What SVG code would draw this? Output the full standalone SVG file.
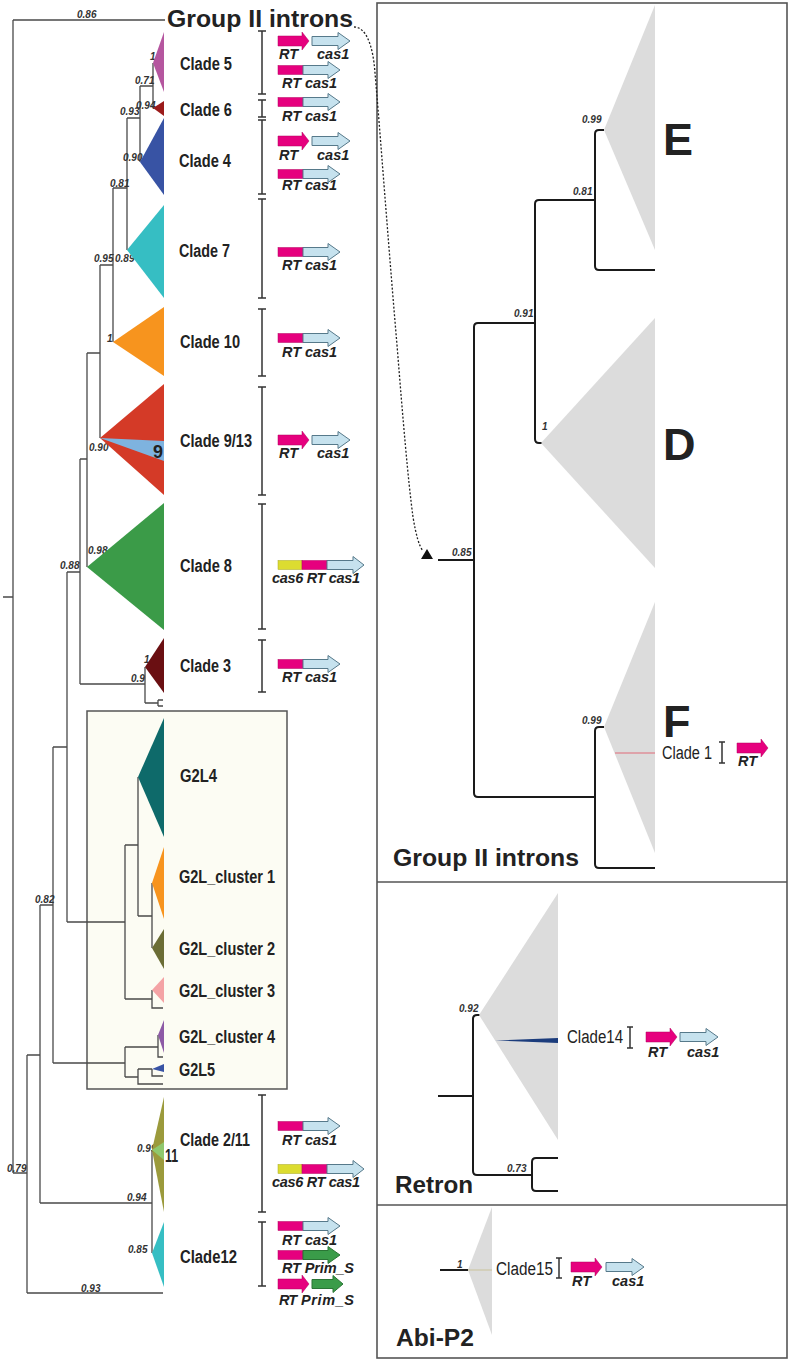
<svg xmlns="http://www.w3.org/2000/svg" xmlns:xlink="http://www.w3.org/1999/xlink" width="800" height="1361" viewBox="0 0 800 1361">
<style>
.tl{fill:none;stroke:#4a4a4a;stroke-width:1.3}
.rt{fill:none;stroke:#1a1a1a;stroke-width:2}
.br{fill:none;stroke:#333;stroke-width:1.5}
.pn{fill:none;stroke:#555;stroke-width:1.6}
.lb{font-family:"Liberation Sans",Arial,sans-serif;font-weight:bold;font-size:18px;fill:#222}
.ln{font-family:"Liberation Sans",Arial,sans-serif;font-size:18px;fill:#222}
.sp{font-family:"Liberation Sans",Arial,sans-serif;font-style:italic;font-weight:bold;font-size:10px;fill:#333}
.gn{font-family:"Liberation Sans",Arial,sans-serif;font-style:italic;font-weight:bold;font-size:14.5px;fill:#222}
.tt{font-family:"Liberation Sans",Arial,sans-serif;font-weight:bold;font-size:24px;fill:#222}
.big{font-family:"Liberation Sans",Arial,sans-serif;font-weight:bold;font-size:45px;fill:#222}
.gray{fill:#dcdcdc}
.mag{fill:#e6007e;stroke:#b3005f;stroke-width:0.5}
.cas{fill:#c6e2ee;stroke:#56798a;stroke-width:1}
.prim{fill:#3a9c49;stroke:#2a7535;stroke-width:1}
.yel{fill:#dcdc30;stroke:#a8a820;stroke-width:0.5}
</style>
<defs>
<g id="aRT"><path class="mag" d="M0,-5 H24 V-9 L31,0 L24,9 V5 H0 Z"/></g>
<g id="aCas"><path class="cas" d="M0,-4.5 H26 V-8.5 L38,0 L26,8.5 V4.5 H0 Z"/></g>
<g id="aPrim"><path class="prim" d="M0,-4.5 H21 V-8.5 L31,0 L21,8.5 V4.5 H0 Z"/></g>
<g id="fRTcas"><rect class="mag" x="0" y="-4.5" width="25" height="9"/><path class="cas" d="M25,-4.5 H50 V-8.5 L62,0 L50,8.5 V4.5 H25 Z"/></g>
<g id="fRTprim"><rect class="mag" x="0" y="-4.5" width="25" height="9"/><path class="prim" d="M25,-4.5 H50 V-8.5 L62,0 L50,8.5 V4.5 H25 Z"/></g>
<g id="tri"><rect class="yel" x="0" y="-4.5" width="24" height="9"/><rect class="mag" x="24" y="-4.5" width="25" height="9"/><path class="cas" d="M49,-4.5 H75 V-8.5 L86,0 L75,8.5 V4.5 H49 Z"/></g>
</defs>
<rect x="0" y="0" width="800" height="1361" fill="#fff"/>

<!-- G2L box -->
<rect id="g2l-box" x="87" y="711" width="200" height="378" fill="#fcfcf3" stroke="#555" stroke-width="1.5"/>

<!-- panels -->
<g id="panels">
<rect class="pn" x="377" y="3" width="410" height="1355"/>
<path class="pn" d="M377,882 H787 M377,1205 H787"/>
</g>

<!-- connectors: left tree -->
<g id="connectors">
<path class="tl" d="M3,597 H13 M13,20 V1173 M13,20 H165 M13,1173 H27 M27,1055 V1293 M27,1293 H163 M27,1055 H40 M40,905 V1203 M40,1203 H152 M152,1150 V1253 M40,905 H53 M53,747 V1063 M53,1063 H125 M125,1047 V1077 M125,1047 H158 M158,1035 V1057 H163 M125,1077 H138 M138,1069 V1084 H163 M138,1069 H152 M152,1069 V1076 H163 M53,747 H67 M67,572 V922 M67,922 H125 M125,845 V999 M125,845 H138 M138,777 V916 M138,916 H152 M152,883 V948 M125,999 H152 M152,990 V1008 H163 M67,572 H80 M80,459 V684 M80,684 H145 M145,667 V703 M145,703 H158 M158,700 V706 M158,700 H163 M158,706 H163 M80,459 H87 M87,353 V567 M87,353 H100 M100,265 V438 M100,265 H113 M113,188 V342 M113,188 H127 M127,118 V250 M127,118 H140 M140,86 V162 M140,86 H153 M153,63 V108"/>
<!-- right panel trees -->
<path class="rt" d="M438,560 H474 M535,323 H478 Q474,323 474,327 V793 Q474,797 478,797 H595 M595,200 H539 Q535,200 535,204 V439 Q535,443 539,443 H542 M604,130 H599 Q595,130 595,134 V266 Q595,270 599,270 H655 M604,727 H599 Q595,727 595,731 V864 Q595,868 599,868 H655"/>
<path class="rt" d="M438,1096 H473 M480,1015 H477 Q473,1015 473,1019 V1171 Q473,1175 477,1175 H532 M558,1158 H536 Q532,1158 532,1162 V1187 Q532,1191 536,1191 H558"/>
<path class="rt" d="M440,1270 H468"/>
<!-- dotted link -->
<path d="M354,27 C366,27 373,45 375,73 C380,130 388,240 397,345 C403,420 408,480 413,517 C416,535 419,546 423,551" fill="none" stroke="#222" stroke-width="1.3" stroke-dasharray="2,1.8"/>
<polygon points="421,559 433,559 427,549" fill="#111"/>
</g>

<!-- support values -->
<g id="support">
<text class="sp" x="77" y="18">0.86</text>
<text class="sp" x="150" y="60">1</text>
<text class="sp" x="135" y="84">0.71</text>
<text class="sp" x="136" y="109">0.94</text>
<text class="sp" x="120" y="115">0.93</text>
<text class="sp" x="123" y="161">0.90</text>
<text class="sp" x="110" y="187">0.81</text>
<text class="sp" x="94" y="262">0.95</text>
<text class="sp" x="115" y="262">0.89</text>
<text class="sp" x="107" y="342">1</text>
<text class="sp" x="89" y="451">0.90</text>
<text class="sp" x="88" y="554">0.98</text>
<text class="sp" x="60" y="569">0.88</text>
<text class="sp" x="144" y="663">1</text>
<text class="sp" x="131" y="682">0.9</text>
<text class="sp" x="35" y="903">0.82</text>
<text class="sp" x="137" y="1152">0.99</text>
<text class="sp" x="7" y="1172">0.79</text>
<text class="sp" x="127" y="1201">0.94</text>
<text class="sp" x="128" y="1253">0.85</text>
<text class="sp" x="81" y="1292">0.93</text>
<text class="sp" x="452" y="556">0.85</text>
<text class="sp" x="514" y="317">0.91</text>
<text class="sp" x="573" y="195">0.81</text>
<text class="sp" x="582" y="123">0.99</text>
<text class="sp" x="542" y="430">1</text>
<text class="sp" x="582" y="724">0.99</text>
<text class="sp" x="459" y="1012">0.92</text>
<text class="sp" x="507" y="1172">0.73</text>
<text class="sp" x="457" y="1268">1</text>
</g>

<text id="title-top" class="tt" x="167" y="27" textLength="186" lengthAdjust="spacingAndGlyphs">Group II introns</text>

<g id="clade5">
<polygon points="153,63 164,32 164,92" fill="#b5569f"/>
<text class="lb" x="180" y="70" textLength="52" lengthAdjust="spacingAndGlyphs">Clade 5</text>
<path class="br" d="M258,31 H266 M262,31 V94 M258,94 H266"/>
<use xlink:href="#aRT" x="278" y="41"/><use xlink:href="#aCas" x="312" y="41"/>
<text class="gn" x="279" y="59">RT</text><text class="gn" x="317" y="59">cas1</text>
<use xlink:href="#fRTcas" x="278" y="70"/>
<text class="gn" x="282" y="88" textLength="55">RT cas1</text>
</g>
<g id="clade6">
<polygon points="153,108 164,101 164,116" fill="#9b1b1b"/>
<text class="lb" x="180" y="116" textLength="52" lengthAdjust="spacingAndGlyphs">Clade 6</text>
<path class="br" d="M258,100 H266 M262,100 V117 M258,117 H266"/>
<use xlink:href="#fRTcas" x="278" y="102"/>
<text class="gn" x="282" y="121" textLength="55">RT cas1</text>
</g>
<g id="clade4">
<polygon points="140,162 164,118 164,195" fill="#3853a4"/>
<text class="lb" x="179" y="167" textLength="52" lengthAdjust="spacingAndGlyphs">Clade 4</text>
<path class="br" d="M258,120 H266 M262,120 V194 M258,194 H266"/>
<use xlink:href="#aRT" x="278" y="141"/><use xlink:href="#aCas" x="312" y="141"/>
<text class="gn" x="279" y="160">RT</text><text class="gn" x="317" y="160">cas1</text>
<use xlink:href="#fRTcas" x="278" y="174"/>
<text class="gn" x="282" y="190" textLength="55">RT cas1</text>
</g>
<g id="clade7">
<polygon points="127,250 164,205 164,298" fill="#36bec3"/>
<text class="lb" x="179" y="257" textLength="51" lengthAdjust="spacingAndGlyphs">Clade 7</text>
<path class="br" d="M258,199 H266 M262,199 V298 M258,298 H266"/>
<use xlink:href="#fRTcas" x="278" y="252"/>
<text class="gn" x="282" y="270" textLength="55">RT cas1</text>
</g>
<g id="clade10">
<polygon points="113,342 164,307 164,376" fill="#f7941e"/>
<text class="lb" x="180" y="348" textLength="60" lengthAdjust="spacingAndGlyphs">Clade 10</text>
<path class="br" d="M258,309 H266 M262,309 V376 M258,376 H266"/>
<use xlink:href="#fRTcas" x="278" y="338"/>
<text class="gn" x="282" y="357" textLength="55">RT cas1</text>
</g>
<g id="clade9-13">
<polygon points="100,438 164,384 164,495" fill="#d43a27"/>
<polygon points="100,438 164,441 164,461" fill="#7eb3df"/>
<text class="lb" x="153" y="458" font-size="17">9</text>
<text class="lb" x="180" y="447" textLength="72" lengthAdjust="spacingAndGlyphs">Clade 9/13</text>
<path class="br" d="M258,387 H266 M262,387 V495 M258,495 H266"/>
<use xlink:href="#aRT" x="278" y="440"/><use xlink:href="#aCas" x="312" y="440"/>
<text class="gn" x="279" y="458">RT</text><text class="gn" x="317" y="458">cas1</text>
</g>
<g id="clade8">
<polygon points="87,567 164,503 164,630" fill="#3b9b48"/>
<text class="lb" x="180" y="572" textLength="52" lengthAdjust="spacingAndGlyphs">Clade 8</text>
<path class="br" d="M258,504 H266 M262,504 V629 M258,629 H266"/>
<use xlink:href="#tri" x="278" y="565"/>
<text class="gn" x="272" y="583" textLength="88">cas6 RT cas1</text>
</g>
<g id="clade3">
<polygon points="145,667 164,638 164,693" fill="#6a0f12"/>
<text class="lb" x="180" y="672" textLength="51" lengthAdjust="spacingAndGlyphs">Clade 3</text>
<path class="br" d="M258,640 H266 M262,640 V692 M258,692 H266"/>
<use xlink:href="#fRTcas" x="278" y="664"/>
<text class="gn" x="282" y="682" textLength="55">RT cas1</text>
</g>
<g id="g2l4">
<polygon points="138,777 164,718 164,837" fill="#0e6a6a"/>
<text class="lb" x="180" y="782" textLength="37" lengthAdjust="spacingAndGlyphs">G2L4</text>
</g>
<g id="g2l-cluster1">
<polygon points="152,883 164,847 164,919" fill="#f7941e"/>
<text class="lb" x="179" y="883" textLength="96" lengthAdjust="spacingAndGlyphs">G2L_cluster 1</text>
</g>
<g id="g2l-cluster2">
<polygon points="152,948 164,929 164,969" fill="#6b6d35"/>
<text class="lb" x="179" y="955" textLength="96" lengthAdjust="spacingAndGlyphs">G2L_cluster 2</text>
</g>
<g id="g2l-cluster3">
<polygon points="152,990 164,977 164,1003" fill="#f4a3a5"/>
<text class="lb" x="179" y="997" textLength="96" lengthAdjust="spacingAndGlyphs">G2L_cluster 3</text>
</g>
<g id="g2l-cluster4">
<polygon points="158,1035 164,1020 164,1053" fill="#8d5aa6"/>
<text class="lb" x="179" y="1043" textLength="96" lengthAdjust="spacingAndGlyphs">G2L_cluster 4</text>
</g>
<g id="g2l5">
<polygon points="152,1069 164,1064 164,1072" fill="#3853a4"/>
<text class="lb" x="179" y="1076" textLength="36" lengthAdjust="spacingAndGlyphs">G2L5</text>
</g>
<g id="clade2-11">
<polygon points="152,1150 164,1097 164,1212" fill="#9b9a3c"/>
<polygon points="152,1150 164,1142 164,1160" fill="#8fc86e"/>
<text class="lb" x="165" y="1162" textLength="13" lengthAdjust="spacingAndGlyphs">11</text>
<text class="lb" x="180" y="1146" textLength="70" lengthAdjust="spacingAndGlyphs">Clade 2/11</text>
<path class="br" d="M258,1095 H266 M262,1095 V1212 M258,1212 H266"/>
<use xlink:href="#fRTcas" x="278" y="1126"/>
<text class="gn" x="282" y="1145" textLength="55">RT cas1</text>
<use xlink:href="#tri" x="278" y="1169"/>
<text class="gn" x="272" y="1187" textLength="88">cas6 RT cas1</text>
</g>
<g id="clade12">
<polygon points="152,1253 164,1222 164,1287" fill="#36bec3"/>
<text class="lb" x="180" y="1263" textLength="57" lengthAdjust="spacingAndGlyphs">Clade12</text>
<path class="br" d="M258,1222 H266 M262,1222 V1286 M258,1286 H266"/>
<use xlink:href="#fRTcas" x="278" y="1226"/>
<text class="gn" x="282" y="1245" textLength="55">RT cas1</text>
<use xlink:href="#fRTprim" x="278" y="1255"/>
<text class="gn" x="282" y="1273" textLength="72">RT Prim_S</text>
<use xlink:href="#aRT" x="278" y="1284"/><use xlink:href="#aPrim" x="312" y="1284"/>
<text class="gn" x="279" y="1305" textLength="18">RT</text><text class="gn" x="301" y="1305" textLength="53">Prim_S</text>
</g>

<!-- right panel 1 -->
<g id="cladeE">
<polygon class="gray" points="604,130 655,5 655,250"/>
<text class="big" x="663" y="155">E</text>
</g>
<g id="cladeD">
<polygon class="gray" points="541,443 655,318 655,568"/>
<text class="big" x="663" y="460">D</text>
</g>
<g id="cladeF">
<polygon class="gray" points="604,727 655,602 655,853"/>
<path d="M615,753 H655" stroke="#e06a78" stroke-width="1"/>
<text class="big" x="663" y="737">F</text>
<text class="ln" x="662" y="759" textLength="50" lengthAdjust="spacingAndGlyphs">Clade 1</text>
<path class="br" d="M719,742 H725 M722,742 V763 M719,763 H725"/>
<use xlink:href="#aRT" x="737" y="748"/>
<text class="gn" x="738" y="766">RT</text>
</g>
<text id="title-g2" class="tt" x="393" y="866" textLength="186" lengthAdjust="spacingAndGlyphs">Group II introns</text>

<!-- right panel 2 -->
<g id="clade14">
<polygon class="gray" points="479,1015 558,893 558,1140"/>
<polygon points="495,1040.5 558,1038 558,1043" fill="#1b3c7c"/>
<text class="ln" x="567" y="1043" textLength="56" lengthAdjust="spacingAndGlyphs">Clade14</text>
<path class="br" d="M627,1027 H633 M630,1027 V1048 M627,1048 H633"/>
<use xlink:href="#aRT" x="646" y="1037"/><use xlink:href="#aCas" x="680" y="1037"/>
<text class="gn" x="648" y="1057">RT</text><text class="gn" x="687" y="1057">cas1</text>
</g>
<text id="title-retron" class="tt" x="395" y="1193" textLength="78" lengthAdjust="spacingAndGlyphs">Retron</text>

<!-- right panel 3 -->
<g id="clade15">
<polygon class="gray" points="468,1270 492,1207 492,1335"/>
<path d="M468,1270 H492" stroke="#c9c29a" stroke-width="1"/>
<text class="ln" x="496" y="1275" textLength="57" lengthAdjust="spacingAndGlyphs">Clade15</text>
<path class="br" d="M556,1258 H562 M559,1258 V1278 M556,1278 H562"/>
<use xlink:href="#aRT" x="571" y="1267"/><use xlink:href="#aCas" x="606" y="1267"/>
<text class="gn" x="572" y="1286">RT</text><text class="gn" x="612" y="1286">cas1</text>
</g>
<text id="title-abi" class="tt" x="396" y="1346" textLength="78" lengthAdjust="spacingAndGlyphs">Abi-P2</text>
</svg>
